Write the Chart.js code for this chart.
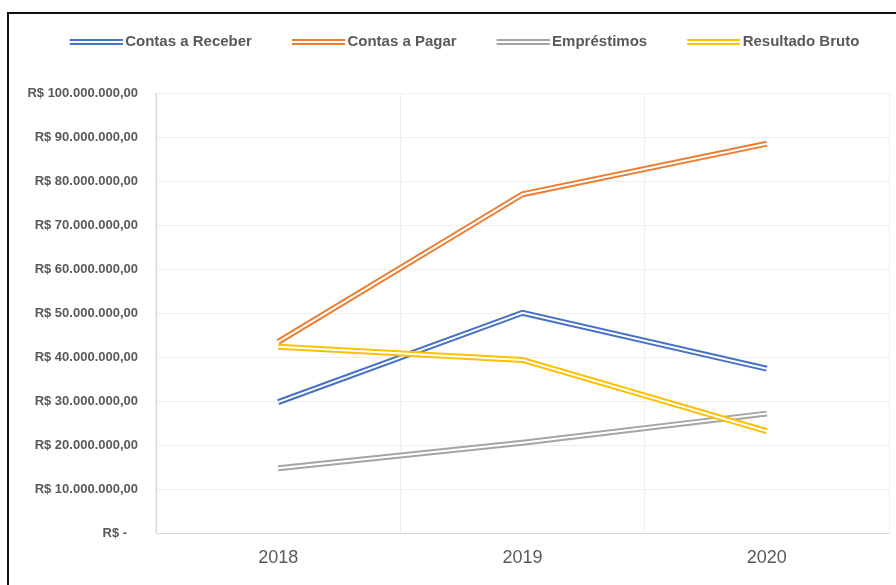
<!DOCTYPE html>
<html>
<head>
<meta charset="utf-8">
<script src="https://cdn.jsdelivr.net/npm/chart.js@4/dist/chart.umd.min.js"></script>
<style>
  body { margin: 0; background: #fff; }
  #wrap { position: relative; width: 896px; height: 585px; overflow: hidden; }
  #frame { position: absolute; left: 7px; top: 12px; width: 1000px; height: 1000px;
           border-top: 2px solid #111; border-left: 2px solid #111; }
  canvas { position: absolute; left: 0; top: 0; }
</style>
</head>
<body>
<div id="wrap">
  <div id="frame"></div>
  <canvas id="chart" width="896" height="585"></canvas>
</div>
<script>
// valores
const years = ['2018', '2019', '2020'];
const contasReceber = [29.8e6, 50.1e6, 37.4e6];
const contasPagar = [43.5e6, 77.0e6, 88.5e6];
const emprestimos = [14.8e6, 20.6e6, 27.2e6];
const resultadoBruto = [42.4e6, 39.4e6, 23.2e6];
const seriesNames = ['Contas a Receber', 'Contas a Pagar', 'Empréstimos', 'Resultado Bruto'];
const seriesColors = ['#4472C4', '#ED7D31', '#A5A5A5', '#FFC000'];
const yMin = 0, yMax = 100e6, yStep = 10e6;

const sans = '"Liberation Sans", Arial, Helvetica, sans-serif';
const textGray = '#595959';

// formato R$ 10.000.000,00
function brl(v) {
  if (v === 0) return 'R$ -   ';
  const s = Math.round(v).toString().replace(/\B(?=(\d{3})+(?!\d))/g, '.');
  return 'R$ ' + s + ',00';
}

// símbolo da legenda com linha dupla
function legendSymbol(color) {
  const c = document.createElement('canvas');
  c.width = 88; c.height = 6;
  const ctx = c.getContext('2d');
  ctx.fillStyle = color;
  ctx.fillRect(35, 0, 53, 2);
  ctx.fillRect(35, 4, 53, 2);
  return c;
}

const allValues = [contasReceber, contasPagar, emprestimos, resultadoBruto];
const datasets = [];
allValues.forEach((data, i) => {
  datasets.push({
    label: seriesNames[i],
    data: data,
    borderColor: seriesColors[i],
    backgroundColor: seriesColors[i],
    borderWidth: 6,
    pointRadius: 0,
    pointStyle: legendSymbol(seriesColors[i]),
    order: 2 * (3 - i) + 1
  });
});
// linha branca por cima para o efeito de linha dupla
allValues.forEach((data, i) => {
  datasets.push({
    label: seriesNames[i] + ' (interno)',
    data: data,
    borderColor: '#ffffff',
    borderWidth: 2,
    pointRadius: 0,
    order: 2 * (3 - i)
  });
});

new Chart(document.getElementById('chart'), {
  type: 'line',
  data: { labels: years, datasets: datasets },
  options: {
    responsive: false,
    animation: false,
    layout: { padding: { left: 10, right: 7, top: 24.5, bottom: 2 } },
    plugins: {
      tooltip: { enabled: false },
      title: {
        display: true,
        text: '',
        weight: 500,
        padding: { top: 0, bottom: 21.5 },
        font: { size: 10 }
      },
      legend: {
        position: 'top',
        labels: {
          usePointStyle: true,
          pointStyleWidth: 78,
          padding: 10,
          color: textGray,
          font: { family: sans, size: 15, weight: 'bold' },
          filter: item => item.datasetIndex < 4,
          sort: (a, b) => a.datasetIndex - b.datasetIndex
        }
      }
    },
    scales: {
      x: {
        offset: true,
        grid: { offset: true, color: '#efefef', drawTicks: false },
        border: { display: true, color: '#d9d9d9' },
        ticks: {
          padding: 14,
          color: textGray,
          font: { family: sans, size: 18 }
        }
      },
      y: {
        min: yMin,
        max: yMax,
        afterFit: scale => { scale.width = 146; },
        grid: { color: '#efefef', drawTicks: false },
        border: { display: true, color: '#d9d9d9' },
        ticks: {
          stepSize: yStep,
          padding: 18,
          color: textGray,
          font: { family: sans, size: 13, weight: 'bold' },
          callback: v => brl(v)
        }
      }
    }
  }
});
</script>
</body>
</html>
